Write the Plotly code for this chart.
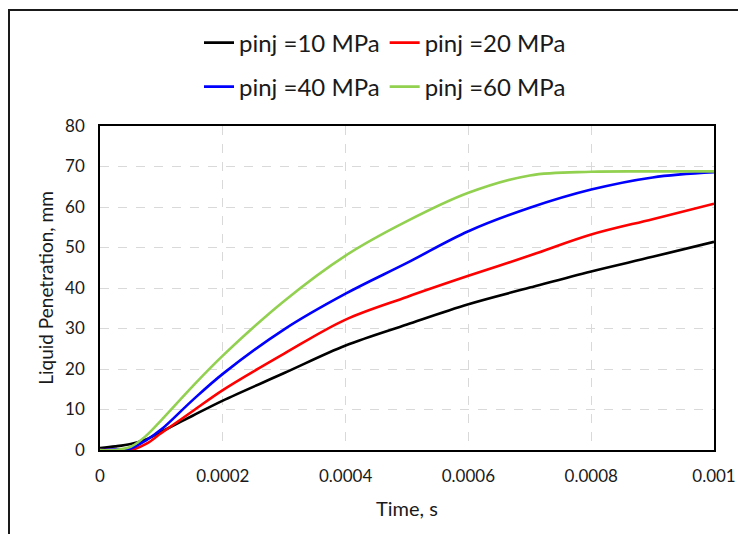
import plotly.graph_objects as go

time_s = [0, 0.000025, 0.00005, 0.000075, 0.0001, 0.00015, 0.0002, 0.0003,
          0.0004, 0.0005, 0.0006, 0.0007, 0.0008, 0.0009, 0.001]
pen_10 = [0.5, 0.9, 1.5, 2.6, 4.5, 8.4, 12.2, 19.0, 25.8, 31.0, 36.0, 40.1, 44.1, 47.7, 51.4]
pen_20 = [0, 0, 0, 1.5, 4.2, 9.5, 14.8, 23.8, 32.2, 37.8, 43.0, 48.0, 53.2, 57.0, 60.8]
pen_40 = [0, 0.1, 0.4, 2.4, 5.1, 12.2, 18.8, 29.8, 38.6, 46.2, 54.0, 59.8, 64.3, 67.3, 68.6]
pen_60 = [0, 0, 0.8, 3.5, 7.4, 15.6, 23.3, 36.8, 48.0, 56.5, 63.5, 67.8, 68.7, 68.8, 68.8]

series_names = ["pinj =10 MPa", "pinj =20 MPa", "pinj =40 MPa", "pinj =60 MPa"]
series_vals = [pen_10, pen_20, pen_40, pen_60]
colors = ["#000000", "#FF0000", "#0000FF", "#92D050"]
legends = ["legend", "legend", "legend2", "legend2"]

x_ticks = [0, 0.0002, 0.0004, 0.0006, 0.0008, 0.001]
x_tick_text = ["0", "0.0002", "0.0004", "0.0006", "0.0008", "0.001"]
y_ticks = [0, 10, 20, 30, 40, 50, 60, 70, 80]

FONT = "Lato"
TXT = "#1a1a1a"

# page body has an 8px margin, so figure coords = screen coords - 8
PL, PR, PT, PB = 92, 706, 118, 442
W, H = 746, 534

fig = go.Figure()
for name, vals, c, lg in zip(series_names, series_vals, colors, legends):
    fig.add_trace(go.Scatter(
        x=time_s, y=vals, mode="lines", name=name, legend=lg,
        line=dict(color=c, width=2.6, shape="spline", smoothing=1.0),
    ))

axis_common = dict(
    showline=True, linecolor="#000000", linewidth=1.5, mirror=True,
    showgrid=True, gridcolor="#D9D9D9", griddash="dash", gridwidth=1,
    zeroline=False, ticks="", automargin=False,
    tickfont=dict(family=FONT, size=17, color=TXT),
)

legend_common = dict(
    orientation="h", xref="container", yref="container",
    xanchor="center", yanchor="middle",
    font=dict(family=FONT, size=24, color=TXT), bgcolor="rgba(0,0,0,0)",
    itemwidth=30, tracegroupgap=0,
)

fig.update_layout(
    width=W, height=H,
    margin=dict(l=PL, r=W - PR, t=PT, b=H - PB, autoexpand=False),
    paper_bgcolor="white", plot_bgcolor="white",
    font=dict(family=FONT, color=TXT),
    xaxis=dict(range=[0, 0.001], tickvals=x_ticks, ticktext=x_tick_text,
               ticklabelstandoff=10,
               title=dict(text="Time, s", font=dict(family=FONT, size=20, color=TXT), standoff=17),
               **axis_common),
    yaxis=dict(range=[0, 80], tickvals=y_ticks, ticklabelstandoff=10,
               title=dict(text="Liquid Penetration, mm", font=dict(family=FONT, size=19, color=TXT), standoff=6),
               **axis_common),
    legend=dict(x=377 / W, y=1 - 35 / H, **legend_common),
    legend2=dict(x=377 / W, y=1 - 79 / H, **legend_common),
    showlegend=True,
)

# outer chart frame (cropped at right and bottom)
pw, ph = PR - PL, PB - PT
fig.add_shape(type="rect", xref="paper", yref="paper",
              x0=(1 - PL) / pw, x1=(780 - PL) / pw,
              y0=(PB - 580) / ph, y1=(PB - 2) / ph,
              line=dict(color=TXT, width=2), layer="below")

fig.write_html("out.html")
